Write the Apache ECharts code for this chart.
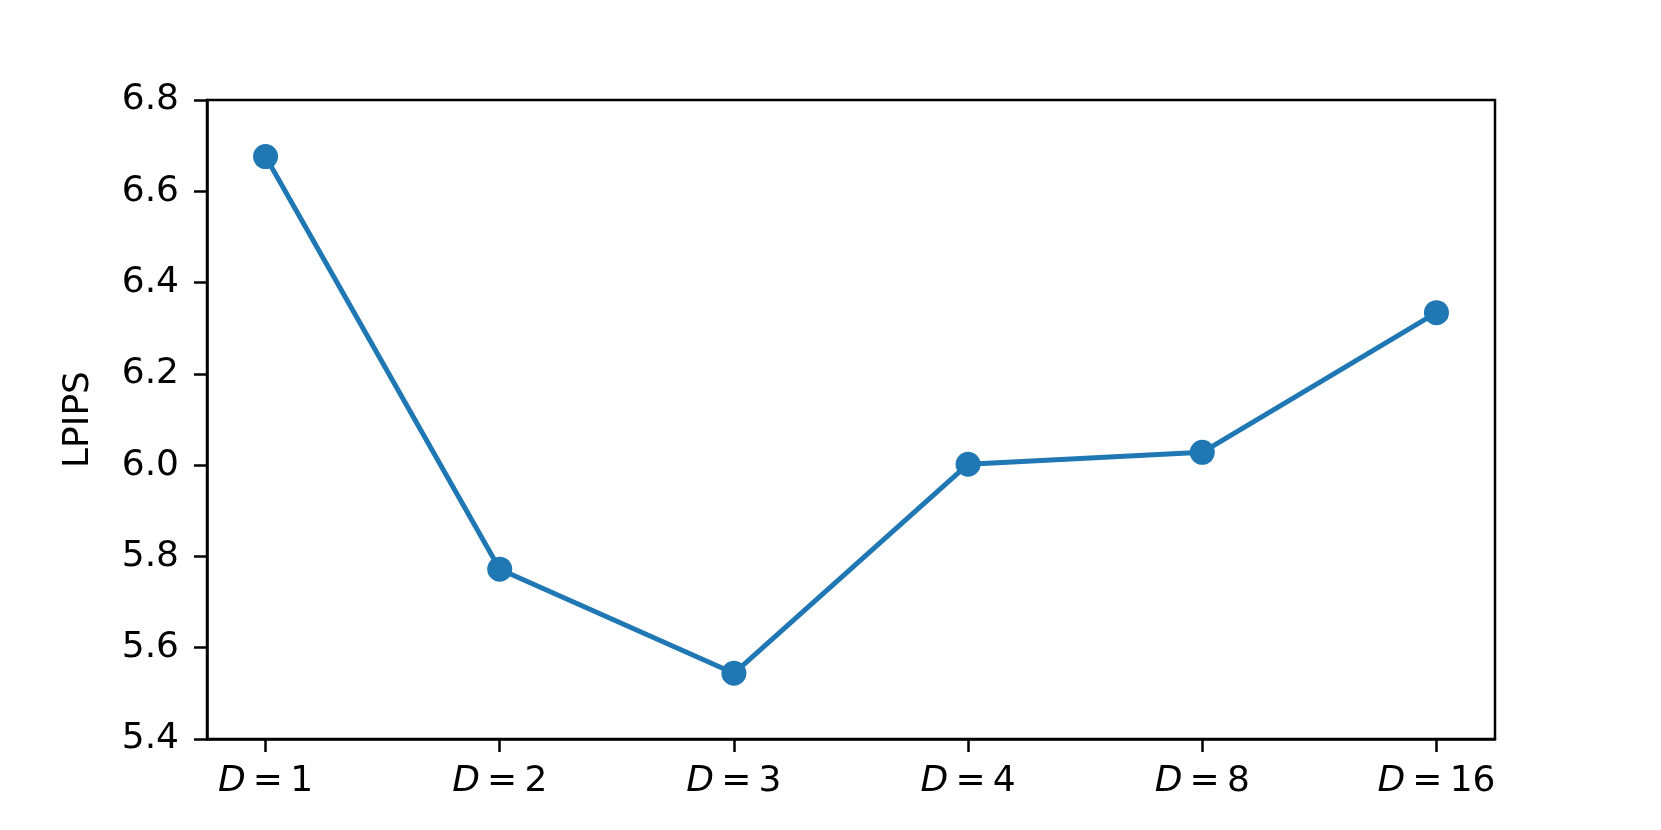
<!DOCTYPE html>
<html>
<head>
<meta charset="utf-8">
<script src="https://cdn.jsdelivr.net/npm/echarts@6/dist/echarts.min.js"></script>
<style>
  html, body { margin: 0; padding: 0; background: #fff; }
  #main { width: 1661px; height: 830px; }
</style>
</head>
<body>
<div id="main"></div>
<script>
// D settings and the LPIPS
const dLabels = ['1', '2', '3', '4', '8', '16'];
const lpips = [6.676, 5.772, 5.544, 6.002, 6.028, 6.334];

const positions = dLabels.map((d, i) => i);
const points = lpips.map((v, i) => [positions[i], v]);

const font = 'DejaVu Sans';
const fs = 36;
const chart = echarts.init(document.getElementById('main'));

chart.setOption({
  animation: false,
  grid: {
    left: 207, right: 166, top: 100, bottom: 91,
    show: true, borderColor: '#000', borderWidth: 2.5, backgroundColor: 'transparent'
  },
  xAxis: {
    type: 'value',
    min: -0.25,
    max: 5.25,
    splitLine: { show: false },
    axisLine: { show: true, onZero: false, lineStyle: { color: '#000', width: 2.5 } },
    axisTick: {
      show: true, customValues: positions, length: 13,
      lineStyle: { color: '#000', width: 2.5 }
    },
    axisLabel: {
      customValues: positions,
      margin: 25,
      formatter: v => '{i|D}{t|\u2009=\u2009' + dLabels[Math.round(v)] + '}',
      rich: {
        i: { fontFamily: font, fontSize: fs, fontStyle: 'italic', color: '#000' },
        t: { fontFamily: font, fontSize: fs, color: '#000' }
      }
    }
  },
  yAxis: {
    type: 'value',
    min: 5.4,
    max: 6.8,
    interval: 0.2,
    name: 'LPIPS',
    nameLocation: 'middle',
    nameGap: 110,
    nameTextStyle: { fontFamily: font, fontSize: fs, color: '#000' },
    splitLine: { show: false },
    axisLine: { show: true, onZero: false, lineStyle: { color: '#000', width: 2.5 } },
    axisTick: { show: true, length: 13, lineStyle: { color: '#000', width: 2.5 } },
    axisLabel: {
      margin: 28,
      fontFamily: font, fontSize: fs, color: '#000',
      formatter: v => v.toFixed(1)
    }
  },
  series: [{
    type: 'line',
    data: points,
    symbol: 'circle',
    symbolSize: 25,
    itemStyle: { color: '#1f77b4' },
    lineStyle: { color: '#1f77b4', width: 5 }
  }]
});
</script>
</body>
</html>
